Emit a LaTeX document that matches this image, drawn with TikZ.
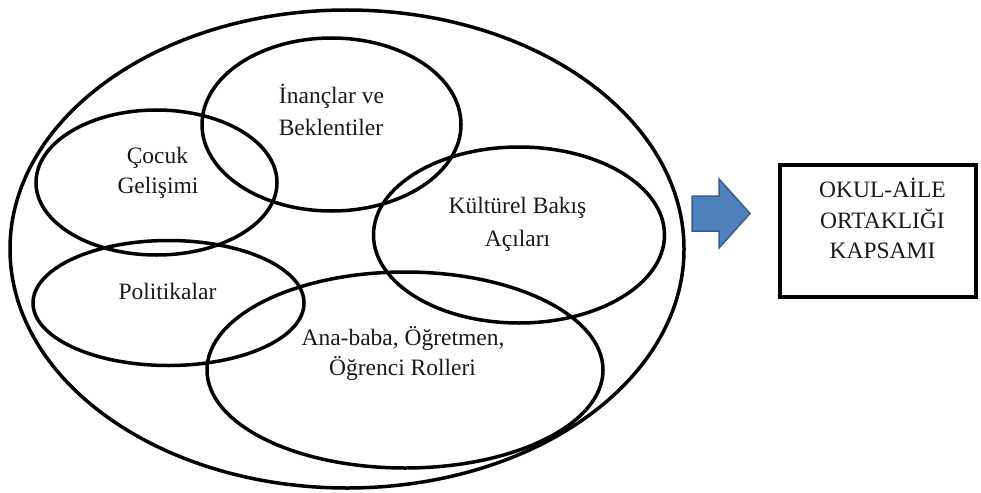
\documentclass[tikz,border=0pt]{standalone}
\usepackage{fontspec}
\setmainfont{Liberation Serif}
\usetikzlibrary{positioning}
\definecolor{arrfill}{HTML}{4F81BD}
\definecolor{arrline}{HTML}{385D8A}
\begin{document}
\begin{tikzpicture}[x=1pt,y=-1pt,
  ring/.style={draw=black,line width=3.5pt},
  lbl/.style={anchor=base,inner sep=0pt,font=\fontsize{23.5}{30}\selectfont,text=black!90},
  boxstyle/.style={draw=black,line width=4pt}]
\useasboundingbox (0,0) rectangle (981,492);
% ellipses
\draw[ring] (347,249) ellipse [x radius=337,y radius=239];
\draw[ring] (331.5,124.5) ellipse [x radius=129.5,y radius=86.5];
\draw[ring] (156.5,182.5) ellipse [x radius=120.5,y radius=72.5];
\draw[ring] (519,235) ellipse [x radius=145.5,y radius=88];
\draw[ring] (168.5,303) ellipse [x radius=135.5,y radius=62.5];
\draw[ring] (405,370) ellipse [x radius=198,y radius=98];
% labels
\node[lbl] (inan1) at (331.5,103) {İnançlar ve};
\node[lbl] (inan2) at (331,135) {Beklentiler};
\node[lbl] (cocuk1) at (157.5,163) {Çocuk};
\node[lbl] (cocuk2) at (158,193) {Gelişimi};
\node[lbl] (kult1) at (517.5,213) {Kültürel Bakış};
\node[lbl] (kult2) at (517.5,246.5) {Açıları};
\node[lbl] (poli) at (167.5,299) {Politikalar};
\node[lbl] (ana1) at (403,345) {Ana-baba, Öğretmen,};
\node[lbl] (ana2) at (402.5,375) {Öğrenci Rolleri};
% block arrow
\coordinate (a1) at (692,196);
\coordinate (a2) at (719,196);
\coordinate (a3) at (719,179);
\coordinate (a4) at (750,213.5);
\coordinate (a5) at (719,248);
\coordinate (a6) at (719,231);
\coordinate (a7) at (692,231);
\draw[fill=arrfill,draw=arrline,line width=1.5pt,line join=miter]
  (a1) -- (a2) -- (a3) -- (a4) -- (a5) -- (a6) -- (a7) -- cycle;
% box
\node[boxstyle,minimum width=196.5pt,minimum height=132pt,inner sep=0pt] (box) at (877.75,230.5) {};
\node[lbl] (box1) at (882.5,197) {OKUL-AİLE};
\node[lbl] (box2) at (882.5,228) {ORTAKLIĞI};
\node[lbl] (box3) at (882.5,258.5) {KAPSAMI};
\end{tikzpicture}
\end{document}
